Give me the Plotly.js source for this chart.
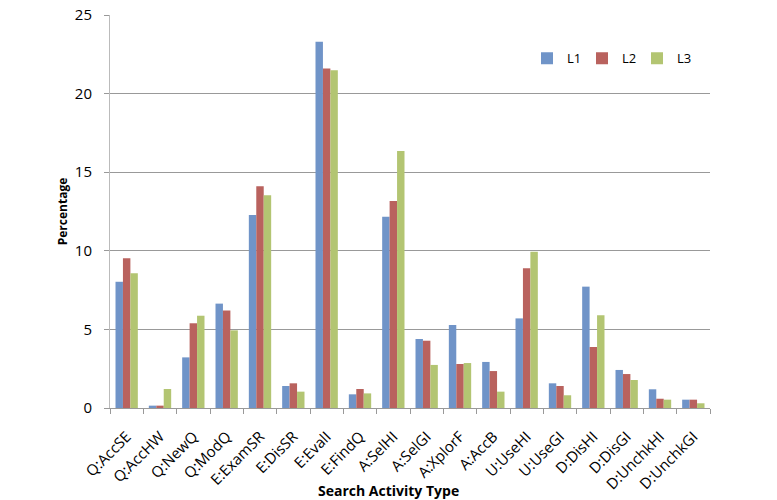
<!DOCTYPE html>
<html>
<head>
<meta charset="utf-8">
<script src="https://cdn.plot.ly/plotly-3.0.1.min.js"></script>
<style>html,body{margin:0;padding:0;background:#fff;}#chart{width:777px;height:500px;}</style>
</head>
<body>
<div id="chart"></div>
<script>
const categories = ["Q:AccSE","Q:AccHW","Q:NewQ","Q:ModQ","E:ExamSR","E:DisSR","E:EvalI","E:FindQ","A:SelHI","A:SelGI","A:XplorF","A:AccB","U:UseHI","U:UseGI","D:DisHI","D:DisGI","D:UnchkHI","D:UnchkGI"];
const L1 = [8.03,0.15,3.22,6.64,12.28,1.40,23.30,0.87,12.17,4.39,5.28,2.93,5.70,1.57,7.72,2.42,1.19,0.53];
const L2 = [9.52,0.15,5.39,6.21,14.10,1.57,21.60,1.21,13.17,4.28,2.80,2.35,8.89,1.40,3.88,2.16,0.59,0.53];
const L3 = [8.57,1.21,5.87,4.94,13.53,1.04,21.48,0.93,16.35,2.74,2.86,1.04,9.94,0.81,5.90,1.78,0.53,0.30];
const seriesNames = ["L1","L2","L3"];
const colors = ["#7094C8","#B9625E","#B3C572"];
const xTitle = "Search Activity Type";
const yTitle = "Percentage";

const font = "Open Sans, Liberation Sans, sans-serif";
const traces = [L1,L2,L3].map((v,i)=>({
  type:"bar", name:seriesNames[i], x:categories, y:v,
  marker:{color:colors[i], line:{width:0}}
}));

const layout = {
  width:777, height:500,
  margin:{l:110, r:67, t:15, b:92},
  paper_bgcolor:"#fff", plot_bgcolor:"#fff",
  font:{family:font, size:13, color:"#000"},
  bargap:0.33, bargroupgap:0,
  showlegend:true,
  legend:{orientation:"h", x:0.695, y:0.89, xanchor:"left", yanchor:"middle",
    font:{family:font, size:13, color:"#000"}, entrywidth:10, itemwidth:30, bgcolor:"rgba(0,0,0,0)"},
  xaxis:{
    type:"category", tickangle:-45, tickson:"boundaries", ticks:"outside", ticklen:5, tickcolor:"#999",
    showline:true, linecolor:"#999", linewidth:1, showgrid:false, ticklabelstandoff:13,
    tickfont:{family:font, size:15, color:"#000"}
  },
  yaxis:{
    range:[0,25], tickvals:[0,5,10,15,20,25], ticks:"outside", ticklen:5, tickcolor:"#999",
    showline:true, linecolor:"#bbb", linewidth:1, ticklabelstandoff:9,
    showgrid:true, gridcolor:"#999", gridwidth:1, zeroline:false,
    tickfont:{family:font, size:15, color:"#000"},
    title:{text:"<b>"+yTitle+"</b>", font:{family:font, size:12, color:"#000"}, standoff:4}
  },
  annotations:[{
    text:"<b>"+xTitle+"</b>", xref:"paper", yref:"paper", x:(388-110)/600, y:(408-490)/393,
    xanchor:"center", yanchor:"middle", showarrow:false, font:{family:font, size:14, color:"#000"}
  }]
};
Plotly.newPlot("chart", traces, layout, {displayModeBar:false, staticPlot:true});
</script>
</body>
</html>
